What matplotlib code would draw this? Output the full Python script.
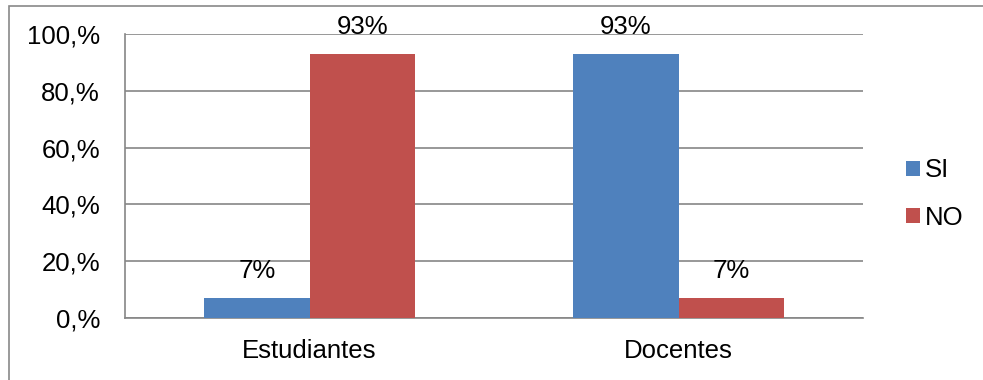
import matplotlib.pyplot as plt
import numpy as np
from matplotlib.patches import Rectangle
from matplotlib.ticker import FuncFormatter

plt.rcParams["font.family"] = ["Liberation Sans", "DejaVu Sans"]

categories = ["Estudiantes", "Docentes"]
series_names = ["SI", "NO"]
si_values = [7, 93]
no_values = [93, 7]
colors = ["#4F81BD", "#C0504D"]

W, H = 983, 380
fig = plt.figure(figsize=(W / 100, H / 100), dpi=100)
ax = fig.add_axes([125 / W, 1 - 318 / H, (863 - 125) / W, (318 - 34) / H])

x = np.arange(len(categories))
width = 0.285
fs = 18.5

for offset, vals, name, color in [(-width / 2, si_values, series_names[0], colors[0]),
                                   (width / 2, no_values, series_names[1], colors[1])]:
    bars = ax.bar(x + offset, vals, width, color=color, label=name, zorder=3)
    # value labels above each bar
    for bar, v in zip(bars, vals):
        ax.annotate(f"{v}%", (bar.get_x() + bar.get_width() / 2, v),
                    xytext=(0, 15), textcoords="offset pixels",
                    ha="center", va="bottom", fontsize=fs, color="#000000", zorder=4)

ax.set_xlim(-0.5, 1.5)
ax.set_ylim(0, 100)
ax.set_yticks(np.arange(0, 101, 20))
ax.yaxis.set_major_formatter(FuncFormatter(lambda v, _: f"{int(v)},%"))
ax.set_xticks(x)
ax.set_xticklabels(categories)
ax.tick_params(axis="both", length=0, labelsize=fs, colors="#000000")
ax.tick_params(axis="y", pad=18)
ax.tick_params(axis="x", pad=15)

ax.grid(axis="y", color="#868686", linewidth=1.2, zorder=0)
for side in ["top", "right"]:
    ax.spines[side].set_visible(False)
for side in ["left", "bottom"]:
    ax.spines[side].set_color("#868686")
    ax.spines[side].set_linewidth(1.2)

fig.legend(loc="center left", bbox_to_anchor=(906 / W, 1 - 194 / H),
           frameon=False, fontsize=fs, handlelength=0.55, handleheight=0.55,
           handletextpad=0.2, labelspacing=0.9, borderpad=0, borderaxespad=0)

# outer chart frame (cut off at the right and bottom edges)
fig.add_artist(Rectangle((8.5 / W, -0.1), 1.2, 1.1 - 5.5 / H, transform=fig.transFigure,
                         fill=False, edgecolor="#898989", linewidth=1.2))

fig.savefig("out.png", dpi=100)
